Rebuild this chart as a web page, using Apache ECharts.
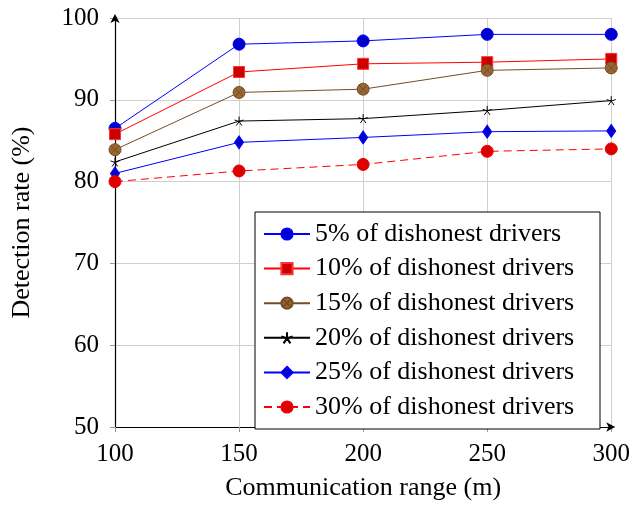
<!DOCTYPE html>
<html>
<head>
<meta charset="utf-8">
<script src="https://cdn.jsdelivr.net/npm/echarts@6/dist/echarts.min.js"></script>
<style>
html,body{margin:0;padding:0;background:#fff;}
#chart{width:633px;height:506px;}
</style>
</head>
<body>
<div id="chart"></div>
<script>
const ranges = [100, 150, 200, 250, 300];
const names = [
  '5% of dishonest drivers',
  '10% of dishonest drivers',
  '15% of dishonest drivers',
  '20% of dishonest drivers',
  '25% of dishonest drivers',
  '30% of dishonest drivers'
];
const d5  = [86.5, 96.8, 97.2, 98.0, 98.0];
const d10 = [85.8, 93.4, 94.4, 94.6, 95.0];
const d15 = [83.9, 90.9, 91.3, 93.6, 93.9];
const d20 = [82.4, 87.4, 87.7, 88.7, 89.9];
const d25 = [81.0, 84.8, 85.4, 86.1, 86.2];
const d30 = [80.0, 81.3, 82.1, 83.7, 84.0];
const yTicks = [50, 60, 70, 80, 90, 100];
const xTicks = [100, 150, 200, 250, 300];

const FONT = 'Liberation Serif';
const otimes = 'path://M0,-10A10,10 0 1 1 0,10A10,10 0 1 1 0,-10Z M-7.07,-7.07L7.07,7.07 M7.07,-7.07L-7.07,7.07';
const star = 'path://M0,0L0,-10 M0,0L9.51,-3.09 M0,0L5.88,8.09 M0,0L-5.88,8.09 M0,0L-9.51,-3.09';

function pairs(arr){ return ranges.map((x,i)=>[x, arr[i]]); }

function mk(name, data, lineColor, fill, border, symbol, size, dashed){
  return {
    name: name, type: 'line', data: pairs(data),
    symbol: symbol, symbolSize: size,
    showAllSymbol: true,
    lineStyle: {color: lineColor, width: 1, type: dashed ? [8,5] : 'solid'},
    itemStyle: {color: fill, borderColor: border, borderWidth: 1, borderType: 'solid'},
    emphasis: {disabled: true},
    animation: false
  };
}

const chart = echarts.init(document.getElementById('chart'), null, {renderer: 'canvas'});
chart.setOption({
  animation: false,
  backgroundColor: '#fff',
  grid: {left: 115, right: 21, top: 18, bottom: 76, containLabel: false},
  xAxis: {
    type: 'value', min: xTicks[0], max: xTicks[xTicks.length-1], interval: 50,
    name: 'Communication range (m)', nameLocation: 'middle', nameGap: 48,
    nameTextStyle: {fontFamily: FONT, fontSize: 26, color: '#000'},
    axisLine: {show: true, lineStyle: {color: '#000', width: 1.2}, symbol: ['none','arrow'], symbolSize: [7,9], symbolOffset: [0, 4]},
    axisTick: {show: true, length: 5, inside: false, lineStyle: {color: '#999'}},
    axisLabel: {fontFamily: FONT, fontSize: 25, color: '#000', margin: 15},
    splitLine: {show: true, lineStyle: {color: '#cfcfcf', width: 1}}
  },
  yAxis: {
    type: 'value', min: yTicks[0], max: yTicks[yTicks.length-1], interval: 10,
    name: 'Detection rate (%)', nameLocation: 'middle', nameGap: 80,
    nameTextStyle: {fontFamily: FONT, fontSize: 26, color: '#000'},
    axisLine: {show: true, lineStyle: {color: '#000', width: 1.2}, symbol: ['none','arrow'], symbolSize: [7,9], symbolOffset: [0, 4]},
    axisTick: {show: true, length: 5, inside: false, lineStyle: {color: '#999'}},
    axisLabel: {fontFamily: FONT, fontSize: 25, color: '#000', margin: 16},
    splitLine: {show: true, lineStyle: {color: '#cfcfcf', width: 1}}
  },
  legend: {
    orient: 'vertical', left: 255, top: 212,
    padding: [9, 13, 9, 8],
    itemWidth: 46, itemHeight: 14, itemGap: 8.6,
    backgroundColor: '#fff', borderColor: '#000', borderWidth: 1,
    textStyle: {fontFamily: FONT, fontSize: 26, color: '#000', lineHeight: 26, width: 272},
    data: names
  },
  series: [
    mk(names[0], d5,  '#0000ff', '#0000cc', '#0000ff', 'circle', 12, false),
    mk(names[1], d10, '#ff0000', '#cc0000', '#ff3333', 'rect', 11, false),
    mk(names[2], d15, '#734d26', '#996633', '#734d26', otimes, 12, false),
    mk(names[3], d20, '#000000', 'rgba(0,0,0,0)', '#000000', star, 9, false),
    mk(names[4], d25, '#0000ff', '#0000cc', '#0000ff', 'diamond', [9, 13], false),
    mk(names[5], d30, '#ff0000', '#dd0000', '#ee0000', 'circle', 12, true)
  ]
});
</script>
</body>
</html>
